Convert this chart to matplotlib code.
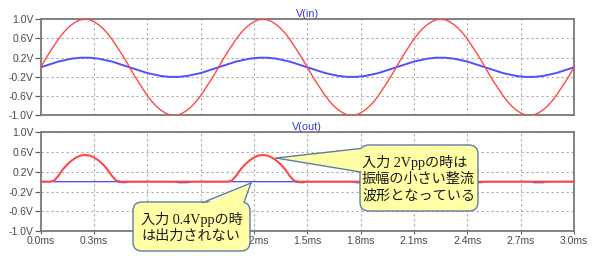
import matplotlib
matplotlib.use("Agg")
import matplotlib.pyplot as plt
from matplotlib.patches import FancyBboxPatch, Polygon
from matplotlib.lines import Line2D
import matplotlib.transforms as mtransforms

# ---------------- data ----------------
time_step_ms = 0.025
sine_period = [0.00, 0.16, 0.31, 0.45, 0.59, 0.71, 0.81, 0.89, 0.95, 0.99,
               1.00, 0.99, 0.95, 0.89, 0.81, 0.71, 0.59, 0.45, 0.31, 0.16,
               0.00, -0.16, -0.31, -0.45, -0.59, -0.71, -0.81, -0.89, -0.95, -0.99,
               -1.00, -0.99, -0.95, -0.89, -0.81, -0.71, -0.59, -0.45, -0.31, -0.16]
vin_2vpp = sine_period * 3 + [0.00]
vin_04vpp_period = [0.00, 0.03, 0.06, 0.09, 0.12, 0.14, 0.16, 0.18, 0.19, 0.20,
                    0.20, 0.20, 0.19, 0.18, 0.16, 0.14, 0.12, 0.09, 0.06, 0.03,
                    0.00, -0.03, -0.06, -0.09, -0.12, -0.14, -0.16, -0.18, -0.19, -0.20,
                    -0.20, -0.20, -0.19, -0.18, -0.16, -0.14, -0.12, -0.09, -0.06, -0.03]
vin_04vpp = vin_04vpp_period * 3 + [0.00]
vout_2vpp_period = [0.00, 0.00, 0.00, 0.02, 0.12, 0.25, 0.35, 0.43, 0.49, 0.53,
                    0.54, 0.53, 0.49, 0.43, 0.35, 0.25, 0.12, 0.02, 0.00, 0.00,
                    0.00, 0.00, 0.00, 0.00, 0.00, 0.00, 0.00, 0.00, 0.00, 0.00,
                    0.00, 0.00, 0.00, 0.00, 0.00, 0.00, 0.00, 0.00, 0.00, 0.00]
vout_2vpp = vout_2vpp_period * 3 + [0.00]
vout_04vpp_period = [0.00, 0.00, 0.00, 0.00, 0.00, 0.00, 0.00, 0.00, 0.00, 0.00,
                     0.00, 0.00, 0.00, 0.00, 0.00, 0.00, 0.00, 0.00, -0.015, -0.02,
                     0.00, 0.00, 0.00, 0.00, 0.00, 0.00, 0.00, 0.00, 0.00, 0.00,
                     0.00, -0.02, -0.02, -0.02, 0.00, 0.00, 0.00, 0.00, 0.00, 0.00]
vout_04vpp = vout_04vpp_period * 3 + [0.00]
time_ms = [i * time_step_ms for i in range(len(vin_2vpp))]

y_ticks = [1.0, 0.6, 0.2, -0.2, -0.6, -1.0]
y_tick_labels = ["1.0V", "0.6V", "0.2V", "-0.2V", "-0.6V", "-1.0V"]
x_ticks = [0.0, 0.3, 0.6, 0.9, 1.2, 1.5, 1.8, 2.1, 2.4, 2.7, 3.0]
x_tick_labels = ["0.0ms", "0.3ms", "0.6ms", "0.9ms", "1.2ms", "1.5ms",
                 "1.8ms", "2.1ms", "2.4ms", "2.7ms", "3.0ms"]
titles = ["V(in)", "V(out)"]
note1 = "入力 0.4Vppの時\nは出力されない"
note2 = "入力 2Vppの時は\n振幅の小さい整流\n波形となっている"

# ---------------- styling ----------------
W, H = 600, 261
RED = "#FF4848"
BLUE = "#5050FF"
plt.rcParams['font.family'] = ['Liberation Sans', 'DejaVu Sans']

fig = plt.figure(figsize=(W / 100, H / 100), dpi=100)
fig.patch.set_facecolor("white")

def axes_rect(left, top, right, bottom):
    return [left / W, 1 - bottom / H, (right - left) / W, (bottom - top) / H]

ax1 = fig.add_axes(axes_rect(40.7, 19.3, 574, 115.3))
ax2 = fig.add_axes(axes_rect(40.7, 132.3, 574, 231.0))

for ax, title in zip((ax1, ax2), titles):
    ax.set_xlim(0, 3.0)
    ax.set_ylim(-1.0, 1.0)
    ax.set_yticks(y_ticks)
    ax.set_yticklabels(y_tick_labels)
    ax.set_xticks(x_ticks)
    ax.grid(True, color="#A8A8A8", linestyle=(0, (2, 2.5)), linewidth=0.8)
    for s in ax.spines.values():
        s.set_color("#7A7A7A")
        s.set_linewidth(1.3)
    ax.tick_params(axis='y', direction='out', length=4, width=0.9, color="#606060",
                   labelsize=7.5, labelcolor="#4A4A4A", pad=1)
    ax.tick_params(axis='x', direction='out', length=2, width=0.8, color="#606060",
                   labelsize=7.5, labelcolor="#4A4A4A", pad=1.5)
    ax.set_title(title, color="#3535E0", fontsize=7.8, pad=2)

ax1.tick_params(axis='x', labelbottom=False, length=0)
ax2.set_xticklabels(x_tick_labels)

ax1.plot(time_ms, vin_04vpp, color=BLUE, linewidth=1.4, zorder=3)
ax1.plot(time_ms, vin_2vpp, color=RED, linewidth=1.0, zorder=4)
ax2.plot(time_ms, vout_04vpp, color=BLUE, linewidth=1.0, zorder=3)
ax2.plot(time_ms, vout_2vpp, color=RED, linewidth=1.5, zorder=4)

# ---------------- callouts (figure pixel coordinates, y from top) ----------------
T = mtransforms.Affine2D().scale(1 / W, -1 / H).translate(0, 1) + fig.transFigure
FILL = "#FFFFA6"
EDGE = "#5A7EA6"

def callout(x0, y0, x1, y1, pointer, edge_pts, text, tx):
    box = FancyBboxPatch((x0, y0), x1 - x0, y1 - y0,
                         boxstyle="round,pad=0,rounding_size=9",
                         transform=T, facecolor=FILL, edgecolor=EDGE,
                         linewidth=1.0, zorder=20, clip_on=False)
    fig.add_artist(box)
    poly = Polygon(pointer, closed=True, transform=T, facecolor=FILL,
                   edgecolor="none", zorder=21, clip_on=False)
    fig.add_artist(poly)
    for a, b in edge_pts:
        fig.add_artist(Line2D([a[0], b[0]], [a[1], b[1]], transform=T,
                              color=EDGE, linewidth=1.0, zorder=22))
    fig.text(tx / W, 1 - ((y0 + y1) / 2 + 1) / H, text, fontsize=10.2,
             color="#1A1A1A",
             family=['Liberation Serif', 'Noto Sans CJK JP'],
             ha='left', va='center', linespacing=1.3, zorder=23)

# callout 1 (0.4Vpp)
tip1 = (251, 183)
callout(133, 202, 250, 251,
        [(203, 205), tip1, (244, 205)],
        [((203, 202.5), tip1), (tip1, (244, 202.5))],
        note1, 141)

# callout 2 (2Vpp)
tip2 = (276, 158)
callout(360, 145, 478, 211,
        [(363, 148.5), tip2, (363, 172)],
        [((360.5, 148.5), tip2), (tip2, (360.5, 172))],
        note2, 362)

fig.savefig("out.png", dpi=100, facecolor="white")
